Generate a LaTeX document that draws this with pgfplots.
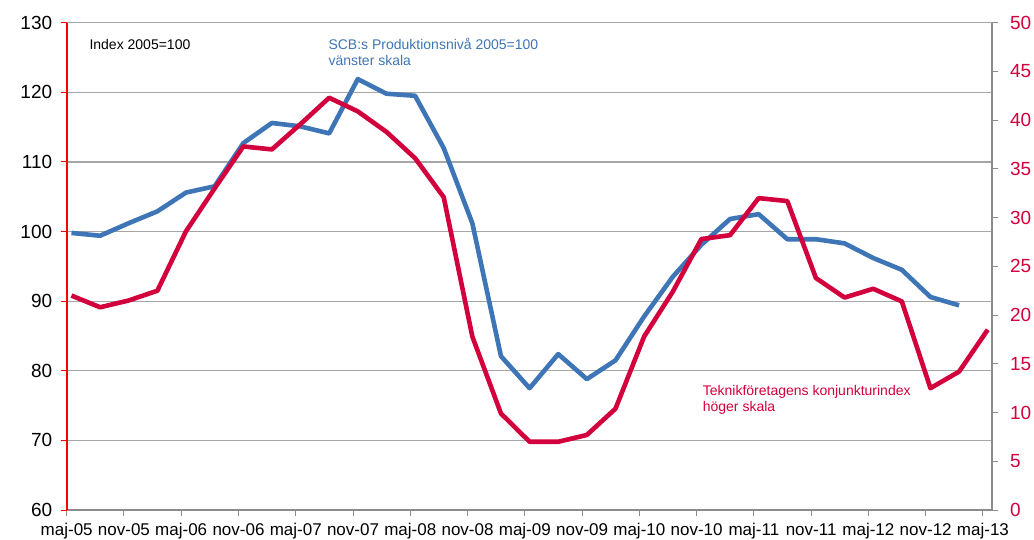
\documentclass[border=0pt]{standalone}
\usepackage{fontspec}
\setmainfont{Liberation Sans}
\usepackage{pgfplots}
\pgfplotsset{compat=1.18}
\definecolor{sblue}{HTML}{3D75B6}
\definecolor{tred}{HTML}{D2003C}
\definecolor{axgray}{HTML}{8C8C8C}
\definecolor{gridgray}{HTML}{A6A6A6}

\pgfplotstableread{
x v
0.5 99.8
3.5 99.4
6.5 101.2
9.5 102.9
12.5 105.6
15.5 106.5
18.5 112.7
21.5 115.6
24.5 115.1
27.5 114.1
30.5 121.9
33.5 119.8
36.5 119.5
39.5 112.0
42.5 101.2
45.5 82.1
48.5 77.5
51.5 82.4
54.5 78.8
57.5 81.5
60.5 87.8
63.5 93.5
66.5 98.1
69.5 101.8
72.5 102.5
75.5 98.9
78.5 98.9
81.5 98.3
84.5 96.2
87.5 94.5
90.5 90.6
93.5 89.4
}\scbdata

\pgfplotstableread{
x v
0.5 22.0
3.5 20.8
6.5 21.5
9.5 22.5
12.5 28.6
15.5 33.0
18.5 37.3
21.5 37.0
24.5 39.6
27.5 42.3
30.5 40.9
33.5 38.8
36.5 36.1
39.5 32.1
42.5 17.8
45.5 9.9
48.5 7.0
51.5 7.0
54.5 7.7
57.5 10.4
60.5 17.8
63.5 22.4
66.5 27.8
69.5 28.2
72.5 32.0
75.5 31.7
78.5 23.8
81.5 21.8
84.5 22.7
87.5 21.4
90.5 12.5
93.5 14.2
96.5 18.5
}\tekdata

\begin{document}
\begin{tikzpicture}[x=1pt,y=1pt]
\useasboundingbox (0,0) rectangle (1034,539);
\begin{axis}[
  at={(66.7pt,29pt)}, anchor=south west,
  scale only axis, width=925.8pt, height=487.3pt,
  xmin=0, xmax=97, ymin=60, ymax=130,
  axis x line*=bottom, axis y line*=left,
  x axis line style={draw=axgray, line width=2pt, -},
  y axis line style={draw=red, line width=2pt, -},
  xtick={0,6,...,96},
  xticklabels={maj-05,nov-05,maj-06,nov-06,maj-07,nov-07,maj-08,nov-08,maj-09,nov-09,maj-10,nov-10,maj-11,nov-11,maj-12,nov-12,maj-13},
  ytick={60,70,...,130},
  tick align=outside, major tick length=6pt,
  xtick style={draw=axgray, line width=1pt},
  ytick style={draw=red, line width=1pt},
  ymajorgrids, grid style={draw=gridgray, line width=1.3pt},
  xticklabel style={font=\fontsize{17}{17}\selectfont, yshift=-4pt},
  yticklabel style={font=\fontsize{19}{19}\selectfont, xshift=-5pt},
  /pgf/number format/assume math mode=true,
]
\addplot[sblue, line width=4.6pt, line join=round] table[x=x,y=v] {\scbdata};
\end{axis}
\begin{axis}[
  at={(66.7pt,29pt)}, anchor=south west,
  scale only axis, width=925.8pt, height=487.3pt,
  xmin=0, xmax=97, ymin=0, ymax=50,
  axis x line=none, axis y line*=right,
  y axis line style={draw=axgray, line width=2pt, -},
  ytick={0,5,...,50},
  tick align=outside, major tick length=6pt,
  ytick style={draw=axgray, line width=1pt},
  yticklabel style={font=\fontsize{19}{19}\selectfont, text=tred, xshift=8pt},
  /pgf/number format/assume math mode=true,
]
\addplot[tred, line width=4.6pt, line join=round] table[x=x,y=v] {\tekdata};
\end{axis}
\node[anchor=base west, font=\fontsize{14}{14}\selectfont] at (86,489.7) {Index 2005=100};
\node[anchor=base west, font=\fontsize{14}{14}\selectfont, text=sblue] at (325,489.7) {SCB:s Produktionsnivå 2005=100};
\node[anchor=base west, font=\fontsize{14}{14}\selectfont, text=sblue] at (325,473.3) {vänster skala};
\node[anchor=base west, font=\fontsize{14}{14}\selectfont, text=tred] at (699.3,143.7) {Teknikföretagens konjunkturindex};
\node[anchor=base west, font=\fontsize{14}{14}\selectfont, text=tred] at (699.3,127.7) {höger skala};
\end{tikzpicture}
\end{document}
